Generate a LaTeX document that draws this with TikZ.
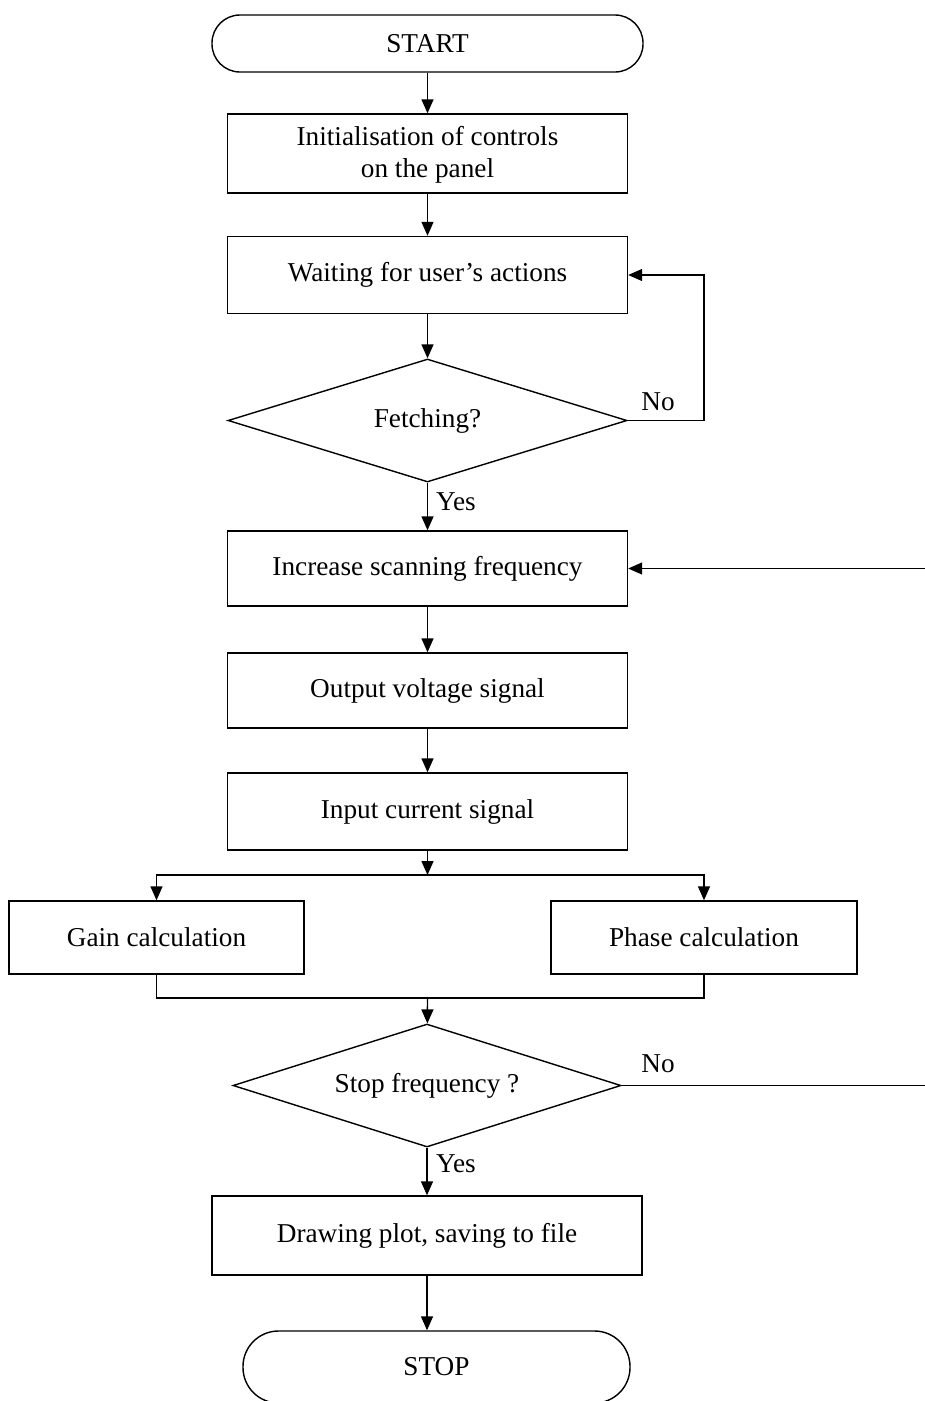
\documentclass[tikz,border=0pt]{standalone}
\usepackage{fontspec}
\setmainfont{Liberation Serif}
\usepackage{tikz}
\usetikzlibrary{positioning}
\usetikzlibrary{shapes.geometric}
\usetikzlibrary{arrows.meta}

\begin{document}
\begin{tikzpicture}[
        font = \fontsize{15.5}{18.2}\selectfont,
        line width = 0.8pt,
        >={Triangle[length=2.8mm, width=2.4mm]},
        block/.style = {
            draw,
            rectangle,
            minimum width = #1,
            minimum height = 1.54cm,
            align = center,
            inner sep = 0pt
        },
        block/.default = 8cm,
        decision/.style = {
            draw,
            diamond,
            aspect = 3,
            minimum width = #1,
            minimum height = 2.46cm,
            inner sep = 0pt
        },
        decision/.default = 7.98cm,
        terminal/.style = {
            draw,
            rectangle,
            rounded corners = 0.56cm,
            minimum width = #1,
            minimum height = 1.14cm
        },
        lbl/.style = {inner sep = 1pt}
        ]
        \useasboundingbox (0,0) rectangle (18.5,-28.02);
%
        \node[terminal=8.62cm] (start) at (8.55,-0.87) {START};
        \node[block, minimum height=1.58cm] (init) at (8.55,-3.07) {\rule{0pt}{12pt}Initialisation of controls\\on the panel};
        \node[block] (wait) at (8.55,-5.5) {Waiting for user's actions};
        \node[decision] (fetch) at (8.55,-8.41) {Fetching?};
        \node[block, minimum height=1.5cm] (incr) at (8.55,-11.37) {Increase scanning frequency};
        \node[block, minimum height=1.5cm] (volt) at (8.55,-13.81) {Output voltage signal};
        \node[block, minimum height=1.54cm] (curr) at (8.55,-16.23) {Input current signal};
%
        \node[block=5.9cm, minimum height=1.46cm] (gain) at (3.13,-18.75) {Gain calculation};
        \node[block=6.12cm, minimum height=1.46cm] (phase) at (14.08,-18.75) {Phase calculation};
%
        \node[decision=7.76cm] (stopq) at (8.54,-21.71) {Stop frequency ?};
        \node[block=8.6cm, minimum height=1.58cm] (plot) at (8.54,-24.71) {Drawing plot, saving to file};
        \node[terminal=7.74cm, minimum height=1.44cm, rounded corners=0.71cm] (stop) at (8.73,-27.34) {STOP};
%
        \coordinate (loop) at (14.08,-8.41);
        \coordinate (rin) at (18.5,-11.37);
        \coordinate (rout) at (18.5,-21.71);
        \coordinate (split) at (8.55,-17.5);
        \coordinate (merge) at (8.55,-19.96);
%
        \node[lbl] (no1) at (13.16,-8.04) {No};
        \node[lbl] (yes1) at (9.12,-10.04) {Yes};
        \node[lbl] (no2) at (13.16,-21.28) {No};
        \node[lbl] (yes2) at (9.12,-23.28) {Yes};
%
        \draw[->] (start) -- (init);
        \draw[->] (init) -- (wait);
        \draw[->] (wait) -- (fetch);
        \draw[->] (fetch) -- (loop) |- (wait);
        \draw[->] (fetch) -- (incr);
        \draw[->] (rin) -- (incr);
        \draw[->] (incr) -- (volt);
        \draw[->] (volt) -- (curr);
        \draw[->] (curr) -- (split);
        \draw[->] (split) -| (gain);
        \draw[->] (split) -| (phase);
        \draw (gain) |- (merge);
        \draw (phase) |- (merge);
        \draw[->] (merge) -- (stopq);
        \draw (stopq) -- (rout);
        \draw[->] (stopq) -- (plot);
        \draw[->] (plot) -- (plot |- stop.north);
\end{tikzpicture}
\end{document}
